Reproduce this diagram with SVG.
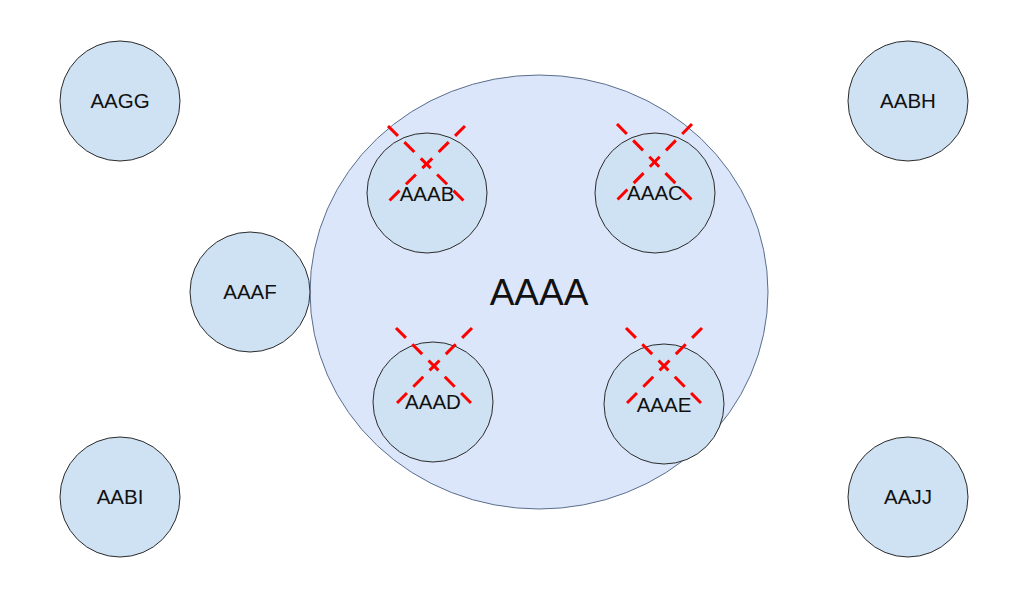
<svg xmlns="http://www.w3.org/2000/svg" width="1024" height="602" viewBox="0 0 1024 602">
<style>
.n{fill:#cfe2f3;stroke:#2b2b2b;stroke-width:1}
.big{fill:#dce6fb;stroke:#5a6e8c;stroke-width:1}
.t{font-family:"Liberation Sans",Arial,sans-serif;font-size:20.5px;fill:#111;text-anchor:middle}
.tb{font-family:"Liberation Sans",Arial,sans-serif;font-size:37px;fill:#111;text-anchor:middle}
.x{stroke:#ff0000;stroke-width:3;stroke-dasharray:14 9;fill:none}
</style>
<rect width="1024" height="602" fill="#ffffff"/>
<g id="AAAA"><ellipse class="big" cx="539" cy="292" rx="229" ry="217"/><text class="tb" x="539" y="305">AAAA</text></g>
<g id="AAGG"><circle class="n" cx="120" cy="101" r="60"/><text class="t" x="120" y="108">AAGG</text></g>
<g id="AABH"><circle class="n" cx="908" cy="101" r="60"/><text class="t" x="908" y="108">AABH</text></g>
<g id="AABI"><circle class="n" cx="120" cy="497" r="60"/><text class="t" x="120" y="504">AABI</text></g>
<g id="AAJJ"><circle class="n" cx="908" cy="497" r="60"/><text class="t" x="908" y="504">AAJJ</text></g>
<g id="AAAF"><circle class="n" cx="250" cy="292" r="60"/><text class="t" x="250" y="299">AAAF</text></g>
<g id="AAAB"><circle class="n" cx="427" cy="193" r="60"/><text class="t" x="427" y="201">AAAB</text></g>
<g id="AAAC"><circle class="n" cx="655" cy="193" r="60"/><text class="t" x="655" y="200">AAAC</text></g>
<g id="AAAD"><circle class="n" cx="433" cy="402" r="60"/><text class="t" x="433" y="409">AAAD</text></g>
<g id="AAAE"><circle class="n" cx="664" cy="404" r="60"/><text class="t" x="664" y="412">AAAE</text></g>
<g id="connectors">
<line class="x" x1="388" y1="126" x2="465" y2="202"/><line class="x" x1="465" y1="126" x2="388" y2="202"/>
<line class="x" x1="617" y1="124" x2="692" y2="200"/><line class="x" x1="692" y1="124" x2="617" y2="200"/>
<line class="x" x1="396" y1="328" x2="472" y2="404"/><line class="x" x1="472" y1="328" x2="396" y2="404"/>
<line class="x" x1="626" y1="328" x2="702" y2="404"/><line class="x" x1="702" y1="328" x2="626" y2="404"/>
</g>
</svg>
